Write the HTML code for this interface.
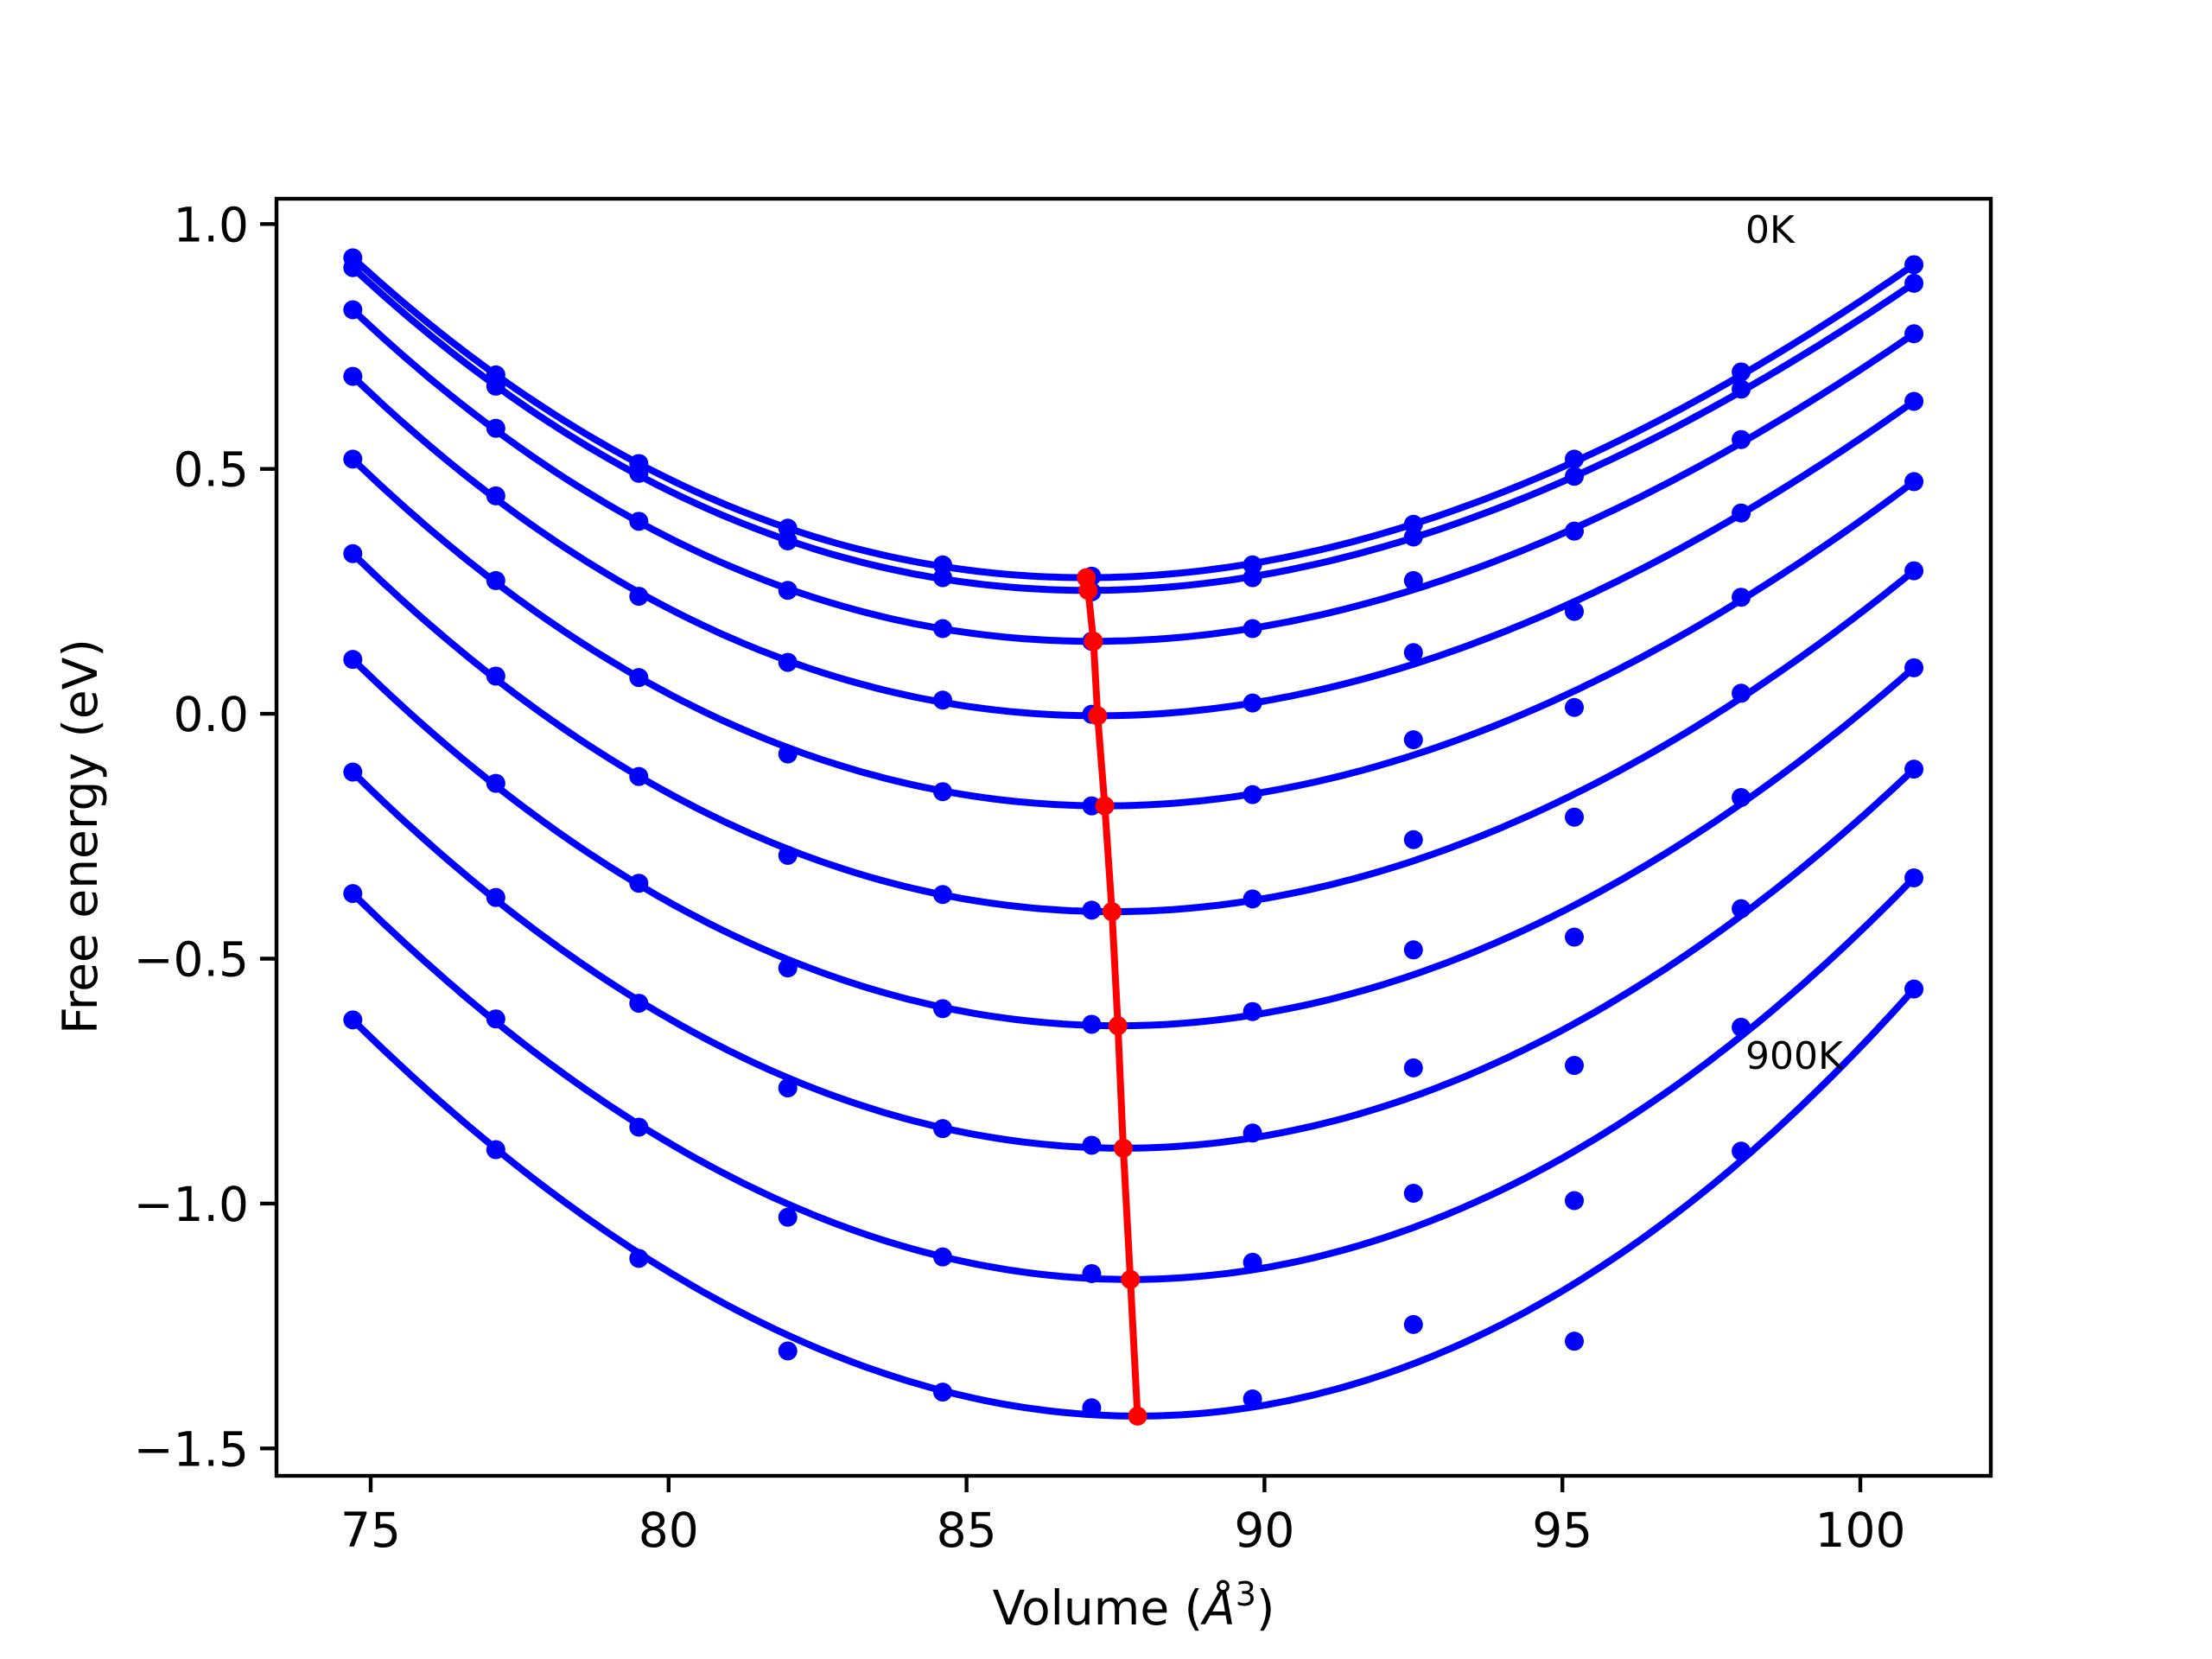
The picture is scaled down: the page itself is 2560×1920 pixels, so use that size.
<!DOCTYPE html>
<html><head><meta charset="utf-8"><style>
html,body{margin:0;padding:0;background:#fff;}
svg{display:block;}
text{font-family:"DejaVu Sans","Liberation Sans",sans-serif;fill:#000;}
</style></head><body>
<svg id="chart" width="2560" height="1920" viewBox="0 0 2560 1920" xmlns="http://www.w3.org/2000/svg">
<rect width="2560" height="1920" fill="#fff"/>
<g id="plot"></g>
<g id="axes"></g>
<text x="2020" y="281" font-size="44">0K</text>
<text x="2020" y="1237" font-size="44">900K</text>
<text x="1312" y="1880" font-size="55" text-anchor="middle">Volume (<tspan font-style="italic">Å</tspan><tspan font-size="38" dy="-22">3</tspan><tspan dy="22">)</tspan></text>
<text transform="translate(112,968) rotate(-90)" font-size="55" text-anchor="middle">Free energy (eV)</text>
</svg>
<script>
const volumes = [74.7, 77.1, 79.5, 82.0, 84.6, 87.1, 89.8, 92.5, 95.2, 98.0, 100.9];
const temps = ['0K','100K','200K','300K','400K','500K','600K','700K','800K','900K'];
const e0K   = [0.931,0.692,0.511,0.379,0.304,0.281,0.304,0.387,0.520,0.698,0.917];
const e100K = [0.911,0.669,0.491,0.353,0.278,0.249,0.278,0.361,0.485,0.663,0.879];
const e200K = [0.825,0.583,0.393,0.252,0.174,0.148,0.174,0.272,0.373,0.560,0.776];
const e300K = [0.689,0.445,0.240,0.105,0.028,-0.001,0.022,0.125,0.209,0.410,0.638];
const e400K = [0.520,0.272,0.074,-0.082,-0.159,-0.188,-0.165,-0.053,0.013,0.238,0.474];
const e500K = [0.327,0.077,-0.128,-0.289,-0.369,-0.401,-0.378,-0.257,-0.211,0.042,0.292];
const e600K = [0.111,-0.142,-0.346,-0.519,-0.602,-0.634,-0.608,-0.482,-0.456,-0.171,0.094];
const e700K = [-0.119,-0.375,-0.591,-0.764,-0.847,-0.881,-0.856,-0.723,-0.718,-0.398,-0.113];
const e800K = [-0.367,-0.623,-0.844,-1.028,-1.109,-1.143,-1.120,-0.979,-0.994,-0.640,-0.335];
const e900K = [-0.625,-0.890,-1.112,-1.301,-1.385,-1.417,-1.399,-1.247,-1.281,-0.893,-0.562];
const minVolumes = [87.01,87.04,87.13,87.20,87.32,87.44,87.54,87.63,87.75,87.87];
const minEnergies = [0.278,0.252,0.148,-0.004,-0.188,-0.404,-0.637,-0.887,-1.155,-1.434];
const xTicks = [75,80,85,90,95,100];
const yTicks = [1.0,0.5,0.0,-0.5,-1.0,-1.5];
const yTickLabels = ['1.0','0.5','0.0','\u22120.5','\u22121.0','\u22121.5'];

const series = [e0K,e100K,e200K,e300K,e400K,e500K,e600K,e700K,e800K,e900K];
const L=320,R=2304,T=230,B=1708;
function xs(v){return 429+(v-75)*68.96;}
function ys(e){return 259.3+(1-e)*566.8;}
const NS='http://www.w3.org/2000/svg';
const plot=document.getElementById('plot'), axes=document.getElementById('axes');
function mk(tag,attrs,parent){const el=document.createElementNS(NS,tag);for(const k in attrs)el.setAttribute(k,attrs[k]);parent.appendChild(el);return el;}

series.forEach((s,i)=>{
  const V0=minVolumes[i],E0=minEnergies[i];
  const d1=volumes[0]-V0,d2=volumes[volumes.length-1]-V0;
  const y1=s[0]-E0,y2=s[s.length-1]-E0;
  const det=d1*d1*d2*d2*d2-d1*d1*d1*d2*d2;
  const a=(y1*d2*d2*d2-d1*d1*d1*y2)/det;
  const b=(d1*d1*y2-y1*d2*d2)/det;
  let pts=[];
  for(let k=0;k<=200;k++){const v=volumes[0]+(volumes[volumes.length-1]-volumes[0])*k/200;const d=v-V0;pts.push(xs(v).toFixed(1)+','+ys(E0+a*d*d+b*d*d*d).toFixed(1));}
  const pl=mk('polyline',{points:pts.join(' '),fill:'none',stroke:'#0000ff','stroke-width':8,'stroke-linejoin':'round'},plot);
  
  
  s.forEach((e,j)=>{
    const c=mk('circle',{cx:xs(volumes[j]),cy:ys(e),r:11,fill:'#0000ff'},plot);
    
    
  });
});
const rp=minVolumes.map((v,i)=>xs(v).toFixed(1)+','+ys(minEnergies[i]).toFixed(1)).join(' ');
const rl=mk('polyline',{points:rp,fill:'none',stroke:'#ff0000','stroke-width':8,'stroke-linejoin':'round'},plot);


minVolumes.forEach((v,i)=>{
  const c=mk('circle',{cx:xs(v),cy:ys(minEnergies[i]),r:11,fill:'#ff0000'},plot);
  
  
});
const fr=mk('rect',{x:L,y:T,width:R-L,height:B-T,fill:'none',stroke:'#000','stroke-width':4.4},axes);


xTicks.forEach(t=>{
  const ln=mk('line',{x1:xs(t),x2:xs(t),y1:B,y2:B+19,stroke:'#000','stroke-width':4.4},axes);
  
  
  const tx=mk('text',{x:xs(t),y:B+82,'font-size':55,'text-anchor':'middle'},axes);
  tx.textContent=String(t);
  
  
});
yTicks.forEach((t,i)=>{
  const ln=mk('line',{x1:L-19,x2:L,y1:ys(t),y2:ys(t),stroke:'#000','stroke-width':4.4},axes);
  
  
  const tx=mk('text',{x:L-32,y:ys(t)+20,'font-size':55,'text-anchor':'end'},axes);
  tx.textContent=yTickLabels[i];
  
  
});
</script>
</body></html>
